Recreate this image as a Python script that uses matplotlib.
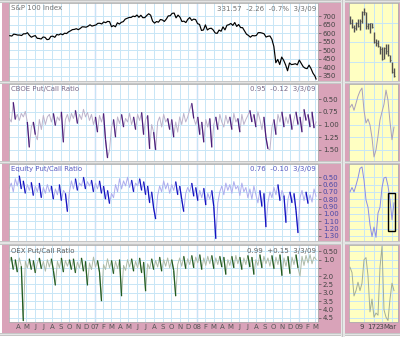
import matplotlib
matplotlib.use('Agg')
import matplotlib.pyplot as plt
import matplotlib.dates as mdates
import matplotlib.transforms as mtrans
import numpy as np
import pandas as pd
from matplotlib.patches import Rectangle
from matplotlib.collections import LineCollection
from matplotlib.ticker import FixedLocator, FuncFormatter, NullFormatter

# ---------------- data ----------------
spx_week_start = '2006-03-03'   # weekly (Friday) closes of the S&P 100
spx_weekly = [
    585.6, 583.3, 594.7, 592.4, 589.2, 589.2, 586.5, 596.5, 596.5, 602.9, 587.4, 576.5, 582.4,
    586.0, 570.1, 569.2, 566.0, 577.9, 575.6, 562.4, 564.2, 581.5, 582.4, 576.0, 592.4, 589.7,
    596.5, 591.0, 600.1, 597.9, 607.9, 613.8, 621.1, 622.4, 626.5, 620.6, 627.9, 637.5, 637.0,
    635.2, 641.1, 649.3, 641.6, 645.2,
    648.1, 657.8, 658.3, 654.1, 666.1, 661.5, 669.3, 667.5, 638.0, 644.9, 637.6, 661.0, 653.7,
    663.8, 667.9, 682.6, 687.2, 692.3, 692.3, 700.1, 696.9, 706.6, 693.2, 705.2, 690.9, 691.4,
    703.8, 713.9, 705.6, 670.7, 659.2, 668.4, 664.7, 680.3, 677.6, 668.8, 682.6, 701.5, 702.4,
    716.2, 718.1, 690.0, 706.1, 694.1, 668.4, 670.7, 662.4, 681.3, 691.8, 674.8, 682.6, 679.9,
    656.1, 651.5, 616.1, 618.9, 648.7, 618.9, 627.3, 629.1, 618.9, 601.2, 598.9, 618.5, 611.5,
    637.1, 619.4, 646.4, 650.1, 657.0, 645.9, 662.6, 639.8, 651.0, 632.9, 632.4, 612.9, 594.3,
    586.8, 576.6, 586.4, 584.5, 586.4, 603.1, 603.6, 600.8, 596.6, 577.5, 582.2, 583.6, 564.0,
    522.0, 427.0, 446.5, 416.6, 460.3, 441.8, 414.7, 380.0, 425.6, 416.1, 418.0, 421.3, 414.7,
    442.7, 422.8, 403.8, 395.2, 392.4, 412.8, 392.8, 365.8, 349.1]
spx_last_date = '2009-03-03'
spx_last = 331.57

pc_start, pc_end = '2006-03-01', '2009-03-03'
cboe_pc = [
    0.88, 0.95, 0.56, 0.90, 0.80, 0.92, 0.78, 0.85, 0.74, 0.95,
    1.45, 1.05, 0.95, 1.20, 1.30, 0.90, 1.10, 0.82, 1.00, 0.85,
    0.80, 0.95, 0.78, 1.02, 0.85, 0.92, 0.75, 1.35, 0.90, 0.80,
    0.95, 0.78, 0.88, 0.72, 0.98, 0.80, 0.90, 0.70, 0.85, 0.76,
    0.92, 0.80, 1.00, 0.85, 1.15, 0.82, 0.95, 0.78, 1.30, 1.66,
    1.50, 1.05, 0.90, 1.25, 0.85, 0.98, 0.80, 1.05, 0.88, 0.95,
    0.78, 1.00, 0.85, 1.10, 0.80, 0.92, 0.76, 1.20, 0.90, 0.82,
    1.48, 1.00, 1.15, 1.50, 0.95, 0.85, 1.05, 0.80, 0.95, 0.88,
    1.10, 0.90, 1.25, 0.95, 1.15, 0.85, 1.00, 0.78, 0.95, 0.85,
    0.70, 0.58, 0.88, 1.00, 0.85, 1.20, 0.95, 1.35, 0.90, 1.05,
    0.88, 1.45, 1.00, 0.85, 1.10, 0.80, 0.95, 1.05, 0.82, 0.98,
    0.85, 1.10, 0.78, 0.95, 0.88, 1.15, 0.80, 1.00, 0.90, 0.82,
    0.72, 0.95, 0.80, 1.05, 0.75, 0.90, 1.10, 0.85, 1.25, 1.48,
    1.50, 1.05, 0.90, 1.20, 0.80, 0.95, 0.75, 1.05, 0.85, 0.98,
    0.80, 1.10, 0.90, 0.75, 1.00, 0.85, 1.15, 0.70, 0.92, 0.80,
    1.05, 0.75, 1.07, 0.95]
equity_pc = [
    0.65, 0.58, 0.70, 0.52, 0.62, 0.48, 0.66, 0.55, 0.72, 0.60,
    0.68, 0.57, 0.75, 0.62, 0.70, 0.58, 0.78, 0.64, 0.72, 0.60,
    0.70, 0.62, 0.80, 0.66, 0.74, 0.60, 0.82, 0.68, 0.72, 0.97,
    0.70, 0.55, 0.66, 0.52, 0.68, 0.58, 0.62, 0.50, 0.66, 0.56,
    0.62, 0.54, 0.70, 0.58, 0.66, 0.55, 0.72, 0.62, 0.80, 0.68,
    0.86, 0.72, 0.78, 0.60, 0.70, 0.52, 0.66, 0.55, 0.62, 0.50,
    0.64, 0.54, 0.70, 0.58, 0.62, 0.52, 0.68, 0.56, 0.74, 0.62,
    0.85, 0.70, 0.92, 1.07, 0.75, 0.62, 0.70, 0.55, 0.66, 0.58,
    0.72, 0.60, 0.68, 0.56, 0.74, 0.62, 0.80, 0.97, 0.72, 0.64,
    0.70, 0.58, 0.76, 0.64, 0.82, 0.68, 0.78, 0.65, 0.88, 0.72,
    0.80, 0.68, 0.90, 1.34, 0.85, 0.70, 0.62, 0.74, 0.58, 0.68,
    0.60, 0.72, 0.56, 0.66, 0.62, 0.75, 0.58, 0.70, 0.64, 0.78,
    0.66, 0.80, 0.62, 0.74, 0.85, 0.68, 0.90, 0.72, 1.18, 0.85,
    0.70, 0.78, 0.64, 0.74, 0.60, 0.82, 0.68, 0.75, 1.12, 0.80,
    0.70, 0.85, 0.72, 0.95, 1.26, 0.78, 0.68, 0.82, 0.70, 0.86,
    0.74, 0.84, 0.66, 0.76]
oex_pc = [
    1.20, 0.85, 1.60, 1.00, 1.75, 0.90, 1.40, 4.70, 1.10, 1.50,
    0.95, 1.60, 1.05, 1.80, 1.20, 0.90, 1.55, 1.10, 1.70, 1.00,
    1.45, 0.95, 1.65, 2.55, 1.10, 1.50, 0.90, 1.75, 1.05, 1.40,
    1.00, 1.60, 0.95, 1.80, 1.15, 1.50, 0.90, 1.70, 1.10, 2.55,
    1.20, 1.60, 0.85, 1.45, 1.05, 1.75, 3.50, 1.30, 1.60, 0.95,
    1.50, 1.05, 1.85, 1.10, 1.55, 1.00, 3.20, 1.35, 1.65, 1.00,
    1.45, 0.95, 1.70, 1.10, 1.50, 0.90, 1.80, 1.15, 2.90, 1.25,
    1.55, 0.95, 1.60, 1.05, 1.45, 0.85, 1.70, 1.00, 1.40, 0.90,
    1.50, 1.00, 1.65, 3.20, 1.30, 0.90, 1.40, 0.80, 1.55, 0.95,
    1.30, 0.75, 1.50, 0.85, 1.20, 0.70, 1.60, 0.90, 1.35, 0.80,
    1.25, 0.75, 1.55, 0.90, 1.30, 0.80, 1.45, 0.85, 1.90, 1.00,
    1.35, 0.80, 1.50, 0.75, 1.25, 0.85, 1.60, 0.90, 1.30, 0.75,
    1.45, 0.85, 1.90, 1.00, 1.35, 0.70, 1.50, 0.80, 1.25, 0.90,
    1.40, 0.75, 1.55, 0.85, 1.30, 0.70, 1.97, 0.90, 1.40, 0.80,
    1.85, 0.85, 1.30, 0.70, 1.50, 2.00, 0.80, 1.35, 0.75, 1.20,
    0.70, 1.25, 0.84, 0.99]

# last-month mini charts (trading days)
mini_days = ['1/29', '1/30', '2/2', '2/3', '2/4', '2/5', '2/6', '2/9', '2/10', '2/11', '2/12',
             '2/13', '2/17', '2/18', '2/19', '2/20', '2/23', '2/24', '2/25', '2/26', '2/27',
             '3/2', '3/3']
mini_spx_high = [408, 405, 397, 401, 404, 404, 415, 418, 414, 400, 400, 400, 388, 379, 378,
                 370, 369, 368, 372, 372, 358, 350, 342]
mini_spx_low = [398, 393, 388, 390, 394, 390, 400, 409, 392, 392, 387, 393, 374, 370, 369,
                360, 352, 353, 359, 357, 350, 335, 330]
mini_spx_close = [400, 394, 393, 399, 396, 402, 413, 414, 395, 398, 399, 394, 375, 374, 370,
                  366, 353, 367, 364, 358, 352, 336, 332]
mini_cboe = [0.66, 0.60, 0.72, 0.58, 0.44, 0.34, 0.28, 0.72, 0.97, 0.89, 1.01, 1.26, 1.64,
             1.50, 1.23, 0.91, 0.75, 0.60, 0.32, 0.52, 0.95, 1.30, 1.05]
mini_equity = [0.70, 0.64, 0.70, 0.61, 0.51, 0.38, 0.36, 0.54, 0.81, 0.91, 1.15, 1.31, 1.18,
               1.32, 0.99, 0.91, 0.64, 0.51, 0.50, 0.62, 0.81, 1.08, 0.85]
mini_oex = [1.46, 1.78, 3.19, 2.87, 2.36, 2.87, 2.42, 1.01, 0.88, 1.97, 4.15, 3.38, 4.47,
            4.22, 4.35, 1.46, 0.20, 4.03, 4.47, 4.67, 3.38, 2.42, 2.87]
mini_tick_days = ['2/9', '2/17', '2/23', '3/2']
mini_tick_labels = ['9', '17', '23', 'Mar']
equity_box_days = ('2/26', '3/3')
equity_box_range = (0.72, 1.24)

titles = ['S&P 100 Index', 'CBOE Put/Call Ratio', 'Equity Put/Call Ratio', 'OEX Put/Call Ratio']
readouts = ['331.57  -2.26  -0.7%  3/3/09', '0.95  -0.12  3/3/09',
            '0.76  -0.10  3/3/09', '0.99  +0.15  3/3/09']
spx_ticks = [350, 400, 450, 500, 550, 600, 650, 700]
cboe_ticks = [0.50, 0.75, 1.00, 1.25, 1.50]
equity_ticks = [0.50, 0.60, 0.70, 0.80, 0.90, 1.00, 1.10, 1.20, 1.30]
oex_ticks = [0.50, 1.0, 1.5, 2.0, 2.5, 3.0, 3.5, 4.0, 4.5]
oex_tick_labels = ['0.50', '1.0', '', '2.0', '2.5', '3.0', '3.5', '4.0', '4.5']

# ---------------- style / layout ----------------
W, H = 400, 337
PINK = '#D9A3B9'
GRID = '#C8E6F6'
YEARC = '#A9A9F2'
YELLOW = '#FFFFC2'
SEP = '#C6C6C6'
FS = 5

fig = plt.figure(figsize=(4.0, 3.37), dpi=100)
fig.patch.set_facecolor('white')


def box(x0, y0, x1, y1):
    return [x0 / W, 1 - y1 / H, (x1 - x0) / W, (y1 - y0) / H]


def frect(x0, y0, x1, y1, color, z=5):
    fig.add_artist(Rectangle((x0 / W, 1 - y1 / H), (x1 - x0) / W, (y1 - y0) / H,
                             transform=fig.transFigure, facecolor=color,
                             edgecolor='none', zorder=z))


bg_main = fig.add_axes(box(2, 3, 341, 333))
bg_main.set_facecolor(PINK)
bg_main.set_xticks([]); bg_main.set_yticks([])
for s in bg_main.spines.values():
    s.set_visible(False)
bg_mini = fig.add_axes(box(345, 3, 400, 333))
bg_mini.set_facecolor(PINK)
bg_mini.set_xticks([]); bg_mini.set_yticks([])
for s in bg_mini.spines.values():
    s.set_visible(False)

rows = [(3, 81), (84, 161), (164, 241), (245, 322)]
# separators
for (a, b) in [(0, 3), (81, 84), (161, 164), (241, 245), (333, 336)]:
    frect(0, a, 400, b, SEP)
    frect(0, a + 1, 400, b - 1 if b - a > 2 else b, '#E4E4E4', z=6)
frect(341, 0, 345, 337, '#E8E8E8')
frect(342, 0, 343, 337, SEP, z=6)

xmin = mdates.date2num(pd.Timestamp('2006-02-28'))
xmax = mdates.date2num(pd.Timestamp('2009-03-10'))
month_starts = pd.date_range('2006-04-01', '2009-03-01', freq='MS')
year_starts = [pd.Timestamp('2007-01-01'), pd.Timestamp('2008-01-01'), pd.Timestamp('2009-01-01')]


def mfmt(x, pos):
    d = mdates.num2date(x)
    if d.month == 1:
        return '%02d' % (d.year % 100)
    return 'JFMAMJJASOND'[d.month - 1]


main_axes = []
mini_axes = []
for i, (a, b) in enumerate(rows):
    ax = fig.add_axes(box(9, a, 318, b))
    ax.set_facecolor('white')
    ax.set_xlim(xmin, xmax)
    ax.xaxis.set_major_locator(FixedLocator(mdates.date2num(month_starts)))
    ax.grid(True, color=GRID, lw=0.7, zorder=0)
    for ys in year_starts:
        ax.axvline(mdates.date2num(ys), color=YEARC, lw=0.9, zorder=0.5,
                   alpha=0.6 if ys.year == 2009 else 1)
    ax.yaxis.tick_right()
    ax.tick_params(axis='y', length=2, width=0.5, pad=1.5, labelsize=FS, colors='#555555',
                   labelcolor='#444444')
    ax.tick_params(axis='x', length=0, labelsize=FS, labelcolor='#555555', pad=1.5)
    for s in ax.spines.values():
        s.set_color('#B0B0B0'); s.set_linewidth(0.6)
    if i < 3:
        ax.xaxis.set_major_formatter(NullFormatter())
    else:
        ax.xaxis.set_major_formatter(FuncFormatter(mfmt))
    main_axes.append(ax)

    mx = fig.add_axes(box(349, a, 398, b))
    mx.set_facecolor(YELLOW)
    mx.set_xlim(-0.5, 24.0)
    mx.xaxis.set_major_locator(FixedLocator([mini_days.index(d) for d in mini_tick_days]))
    mx.grid(True, color=GRID, lw=0.7, zorder=0)
    mx.tick_params(axis='both', length=0, labelsize=FS, labelcolor='#444444', pad=1.5)
    mx.yaxis.set_major_formatter(NullFormatter())
    if i < 3:
        mx.xaxis.set_major_formatter(NullFormatter())
    else:
        mx.set_xticklabels(mini_tick_labels)
        off = mtrans.ScaledTranslation(-2.5 / 100, 0, fig.dpi_scale_trans)
        for lab in mx.get_xticklabels():
            lab.set_transform(lab.get_transform() + off)
    for s in mx.spines.values():
        s.set_color('#B0B0B0'); s.set_linewidth(0.6)
    mini_axes.append(mx)

# ---- panel 1: S&P 100
ax = main_axes[0]
sd = list(pd.date_range(spx_week_start, periods=len(spx_weekly), freq='W-FRI')) + [pd.Timestamp(spx_last_date)]
sv = spx_weekly + [spx_last]
ax.plot(mdates.date2num(sd), sv, color='black', lw=0.85, zorder=3)
ax.set_ylim(320, 777)
ax.set_yticks(spx_ticks)
ax.set_yticklabels([str(t) for t in spx_ticks])


def pc_draw(ax, vals, light, dark, thr):
    x = mdates.date2num(pd.date_range(pc_start, pc_end, periods=len(vals)))
    ax.plot(x, vals, color=light, lw=0.7, zorder=2)
    segs = [[(x[k - 1], vals[k - 1]), (x[k], vals[k])] for k in range(1, len(vals))
            if vals[k] - vals[k - 1] > thr]
    ax.add_collection(LineCollection(segs, colors=dark, linewidths=0.9, zorder=3))


ax = main_axes[1]
pc_draw(ax, cboe_pc, '#BDB3CB', '#4A1A7A', 0.22)
ax.set_ylim(1.72, 0.20)
ax.set_yticks(cboe_ticks)
ax.set_yticklabels(['%.2f' % t for t in cboe_ticks])

ax = main_axes[2]
pc_draw(ax, equity_pc, '#ADADEE', '#1010C0', 0.15)
ax.set_ylim(1.37, 0.32)
ax.set_yticks(equity_ticks)
ax.set_yticklabels(['%.2f' % t for t in equity_ticks])
ax.tick_params(axis='y', labelcolor='#4848A8')

ax = main_axes[3]
pc_draw(ax, oex_pc, '#AEBBA8', '#1E5A1E', 0.6)
ax.set_ylim(4.76, 0.12)
ax.set_yticks(oex_ticks)
ax.set_yticklabels(oex_tick_labels)

# ---- mini charts
idx = np.arange(len(mini_days))
mx = mini_axes[0]
mx.vlines(idx, mini_spx_low, mini_spx_high, color='#505050', lw=1.0, zorder=3)
mx.hlines(mini_spx_close, idx, idx + 0.45, color='#505050', lw=0.6, zorder=3)
mx.set_ylim(325, 425)
mx.set_yticks([350, 375, 400])

mx = mini_axes[1]
mx.plot(idx, mini_cboe, color='#A99FBB', lw=0.7, zorder=3)
mx.set_ylim(1.72, 0.20)
mx.set_yticks(cboe_ticks)

mx = mini_axes[2]
mx.plot(idx, mini_equity, color='#8C8CE6', lw=0.7, zorder=3)
mx.set_ylim(1.37, 0.32)
mx.set_yticks(equity_ticks)
b0 = mini_days.index(equity_box_days[0])
b1 = mini_days.index(equity_box_days[1])
mx.add_patch(Rectangle((b0 - 0.2, equity_box_range[0]), b1 - b0 + 0.9,
                       equity_box_range[1] - equity_box_range[0],
                       fill=False, edgecolor='black', lw=1.0, zorder=4))

mx = mini_axes[3]
mx.plot(idx, mini_oex, color='#A3AE98', lw=0.7, zorder=3)
mx.set_ylim(4.76, 0.12)
mx.set_yticks(oex_ticks)

# ---- titles and readouts
title_colors = ['#707070', '#7A6A88', '#5A5AC0', '#606060']
for i, ax in enumerate(main_axes):
    ax.text(2 / 309, 1 - 2.5 / (rows[i][1] - rows[i][0]), titles[i], transform=ax.transAxes,
            fontsize=FS, color=title_colors[i], ha='left', va='top', zorder=6)
    ax.text(1 - 2 / 309, 1 - 2.5 / (rows[i][1] - rows[i][0]), readouts[i], transform=ax.transAxes,
            fontsize=FS, color=title_colors[i], ha='right', va='top', zorder=6)

fig.savefig('out.png', dpi=100, facecolor=fig.get_facecolor())
